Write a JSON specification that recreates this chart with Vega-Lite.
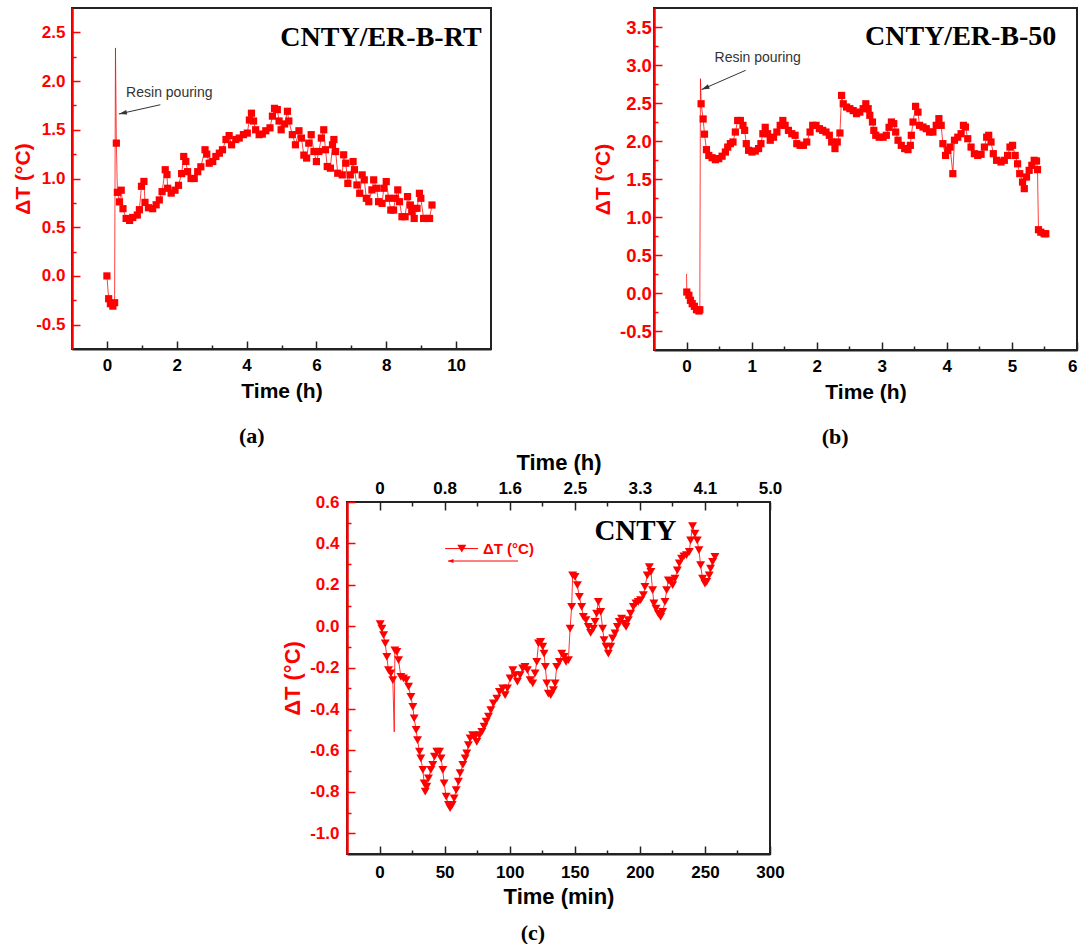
{
  "$schema": "https://vega.github.io/schema/vega-lite/v6.json",
  "padding": {"left": 11, "top": 7, "right": 0, "bottom": 0},
  "background": "white",
  "datasets": {
    "a": [
      {"t":0,"dT":0.0},{"t":0.05,"dT":-0.234},{"t":0.1,"dT":-0.285},{"t":0.17,"dT":-0.31},{"t":0.22,"dT":-0.275},
      {"t":0.245,"dT":2.34,"spike":true},{"t":0.27,"dT":1.363},{"t":0.3,"dT":0.858},{"t":0.36,"dT":0.76},{"t":0.41,"dT":0.88},
      {"t":0.46,"dT":0.69},{"t":0.55,"dT":0.59},{"t":0.65,"dT":0.57},{"t":0.74,"dT":0.6},{"t":0.87,"dT":0.625},
      {"t":0.93,"dT":0.68},{"t":0.99,"dT":0.92},{"t":1.06,"dT":0.97},{"t":1.09,"dT":0.755},{"t":1.19,"dT":0.7},
      {"t":1.31,"dT":0.69},{"t":1.41,"dT":0.73},{"t":1.5,"dT":0.78},{"t":1.58,"dT":0.865},{"t":1.67,"dT":1.09},
      {"t":1.72,"dT":1.04},{"t":1.74,"dT":0.9},{"t":1.84,"dT":0.85},{"t":1.95,"dT":0.88},{"t":2.05,"dT":0.93},
      {"t":2.14,"dT":1.05},{"t":2.2,"dT":1.226},{"t":2.26,"dT":1.175},{"t":2.31,"dT":1.07},{"t":2.41,"dT":1.0},
      {"t":2.5,"dT":1.0},{"t":2.6,"dT":1.07},{"t":2.69,"dT":1.12},{"t":2.81,"dT":1.295},{"t":2.86,"dT":1.25},
      {"t":2.93,"dT":1.157},{"t":3.03,"dT":1.174},{"t":3.12,"dT":1.226},{"t":3.22,"dT":1.26},{"t":3.31,"dT":1.295},
      {"t":3.41,"dT":1.4},{"t":3.5,"dT":1.44},{"t":3.57,"dT":1.346},{"t":3.69,"dT":1.4},{"t":3.79,"dT":1.415},
      {"t":3.91,"dT":1.45},{"t":4.02,"dT":1.466},{"t":4.08,"dT":1.6},{"t":4.14,"dT":1.67},{"t":4.2,"dT":1.59},
      {"t":4.26,"dT":1.5},{"t":4.36,"dT":1.45},{"t":4.45,"dT":1.456},{"t":4.55,"dT":1.49},{"t":4.67,"dT":1.52},
      {"t":4.74,"dT":1.64},{"t":4.8,"dT":1.72},{"t":4.88,"dT":1.707},{"t":4.93,"dT":1.59},{"t":4.99,"dT":1.5},
      {"t":5.09,"dT":1.56},{"t":5.17,"dT":1.69},{"t":5.21,"dT":1.59},{"t":5.31,"dT":1.45},{"t":5.4,"dT":1.346},
      {"t":5.5,"dT":1.49},{"t":5.57,"dT":1.415},{"t":5.64,"dT":1.24},{"t":5.72,"dT":1.21},{"t":5.78,"dT":1.363},
      {"t":5.85,"dT":1.45},{"t":5.93,"dT":1.277},{"t":6.0,"dT":1.174},{"t":6.07,"dT":1.277},{"t":6.14,"dT":1.415},
      {"t":6.21,"dT":1.5},{"t":6.26,"dT":1.295},{"t":6.31,"dT":1.123},{"t":6.4,"dT":1.106},{"t":6.46,"dT":1.346},
      {"t":6.5,"dT":1.4},{"t":6.55,"dT":1.277},{"t":6.61,"dT":1.054},{"t":6.74,"dT":1.037},{"t":6.78,"dT":1.243},
      {"t":6.84,"dT":1.157},{"t":6.9,"dT":0.95},{"t":6.97,"dT":1.037},{"t":7.05,"dT":1.174},{"t":7.09,"dT":1.09},
      {"t":7.16,"dT":0.934},{"t":7.24,"dT":0.848},{"t":7.31,"dT":1.037},{"t":7.37,"dT":0.986},{"t":7.43,"dT":0.797},
      {"t":7.5,"dT":0.762},{"t":7.59,"dT":0.883},{"t":7.64,"dT":0.986},{"t":7.72,"dT":0.9},{"t":7.78,"dT":0.762},
      {"t":7.88,"dT":0.745},{"t":7.93,"dT":0.9},{"t":8.0,"dT":0.968},{"t":8.07,"dT":0.797},{"t":8.13,"dT":0.676},
      {"t":8.21,"dT":0.676},{"t":8.26,"dT":0.797},{"t":8.33,"dT":0.883},{"t":8.38,"dT":0.762},{"t":8.45,"dT":0.608},
      {"t":8.54,"dT":0.608},{"t":8.61,"dT":0.814},{"t":8.69,"dT":0.728},{"t":8.73,"dT":0.66},{"t":8.8,"dT":0.59},
      {"t":8.88,"dT":0.694},{"t":8.95,"dT":0.848},{"t":8.99,"dT":0.797},{"t":9.07,"dT":0.59},{"t":9.16,"dT":0.59},
      {"t":9.24,"dT":0.59},{"t":9.31,"dT":0.728}
    ],
    "b": [
      {"t":0,"dT":0.25,"spike":true},{"t":0.004,"dT":0.013},{"t":0.036,"dT":-0.03},{"t":0.06,"dT":-0.096},{"t":0.087,"dT":-0.14},
      {"t":0.12,"dT":-0.175},{"t":0.153,"dT":-0.22},{"t":0.19,"dT":-0.237},{"t":0.204,"dT":-0.22},{"t":0.214,"dT":2.82,"spike":true},
      {"t":0.224,"dT":2.49},{"t":0.255,"dT":2.29},{"t":0.276,"dT":2.09},{"t":0.306,"dT":1.886},{"t":0.342,"dT":1.81},
      {"t":0.393,"dT":1.78},{"t":0.444,"dT":1.754},{"t":0.495,"dT":1.768},{"t":0.546,"dT":1.8},{"t":0.597,"dT":1.855},
      {"t":0.633,"dT":1.92},{"t":0.673,"dT":1.965},{"t":0.714,"dT":1.987},{"t":0.75,"dT":2.118},{"t":0.786,"dT":2.27},
      {"t":0.827,"dT":2.27},{"t":0.867,"dT":2.206},{"t":0.893,"dT":2.14},{"t":0.918,"dT":1.965},{"t":0.954,"dT":1.877},
      {"t":1.005,"dT":1.855},{"t":1.056,"dT":1.868},{"t":1.107,"dT":1.9},{"t":1.143,"dT":1.965},{"t":1.173,"dT":2.096},
      {"t":1.209,"dT":2.18},{"t":1.245,"dT":2.096},{"t":1.286,"dT":2.01},{"t":1.337,"dT":2.05},{"t":1.388,"dT":2.118},
      {"t":1.439,"dT":2.206},{"t":1.48,"dT":2.27},{"t":1.515,"dT":2.206},{"t":1.566,"dT":2.14},{"t":1.617,"dT":2.096},
      {"t":1.668,"dT":2.075},{"t":1.694,"dT":1.965},{"t":1.745,"dT":1.943},{"t":1.796,"dT":1.943},{"t":1.847,"dT":1.987},
      {"t":1.898,"dT":2.118},{"t":1.939,"dT":2.206},{"t":1.99,"dT":2.206},{"t":2.041,"dT":2.162},{"t":2.092,"dT":2.14},
      {"t":2.143,"dT":2.118},{"t":2.194,"dT":2.075},{"t":2.23,"dT":1.987},{"t":2.281,"dT":1.9},{"t":2.316,"dT":1.987},
      {"t":2.357,"dT":2.105},{"t":2.383,"dT":2.6},{"t":2.408,"dT":2.49},{"t":2.459,"dT":2.447},{"t":2.51,"dT":2.425},
      {"t":2.561,"dT":2.4},{"t":2.612,"dT":2.36},{"t":2.663,"dT":2.38},{"t":2.714,"dT":2.425},{"t":2.755,"dT":2.49},
      {"t":2.791,"dT":2.425},{"t":2.816,"dT":2.338},{"t":2.857,"dT":2.25},{"t":2.878,"dT":2.14},{"t":2.908,"dT":2.075},
      {"t":2.959,"dT":2.05},{"t":3.02,"dT":2.05},{"t":3.07,"dT":2.075},{"t":3.112,"dT":2.18},{"t":3.148,"dT":2.25},
      {"t":3.184,"dT":2.228},{"t":3.214,"dT":2.118},{"t":3.25,"dT":2.01},{"t":3.3,"dT":1.943},{"t":3.352,"dT":1.9},
      {"t":3.403,"dT":1.886},{"t":3.439,"dT":1.943},{"t":3.454,"dT":2.075},{"t":3.48,"dT":2.25},{"t":3.52,"dT":2.456},
      {"t":3.556,"dT":2.38},{"t":3.58,"dT":2.206},{"t":3.633,"dT":2.184},{"t":3.684,"dT":2.162},{"t":3.735,"dT":2.118},
      {"t":3.786,"dT":2.118},{"t":3.837,"dT":2.206},{"t":3.878,"dT":2.294},{"t":3.913,"dT":2.206},{"t":3.939,"dT":1.965},
      {"t":3.98,"dT":1.81},{"t":4.015,"dT":1.877},{"t":4.05,"dT":1.92},{"t":4.092,"dT":1.57},{"t":4.117,"dT":2.01},
      {"t":4.168,"dT":2.05},{"t":4.219,"dT":2.096},{"t":4.255,"dT":2.206},{"t":4.286,"dT":2.184},{"t":4.321,"dT":2.03},
      {"t":4.372,"dT":1.92},{"t":4.423,"dT":1.833},{"t":4.474,"dT":1.81},{"t":4.526,"dT":1.825},{"t":4.577,"dT":1.92},
      {"t":4.612,"dT":2.05},{"t":4.643,"dT":2.075},{"t":4.679,"dT":1.987},{"t":4.714,"dT":1.833},{"t":4.765,"dT":1.746},
      {"t":4.832,"dT":1.724},{"t":4.883,"dT":1.746},{"t":4.934,"dT":1.81},{"t":4.97,"dT":1.92},{"t":5.01,"dT":1.943},
      {"t":5.05,"dT":1.81},{"t":5.087,"dT":1.7},{"t":5.12,"dT":1.57},{"t":5.163,"dT":1.46},{"t":5.19,"dT":1.373},
      {"t":5.224,"dT":1.526},{"t":5.265,"dT":1.614},{"t":5.306,"dT":1.68},{"t":5.342,"dT":1.746},{"t":5.378,"dT":1.737},
      {"t":5.393,"dT":1.623},{"t":5.408,"dT":0.833},{"t":5.444,"dT":0.8},{"t":5.495,"dT":0.78},{"t":5.52,"dT":0.78}
    ],
    "c": [
      {"t":0.5,"dT":0.01},{"t":1.8,"dT":-0.011},{"t":3.1,"dT":-0.043},{"t":4.4,"dT":-0.083},{"t":5.6,"dT":-0.148},
      {"t":6.9,"dT":-0.212},{"t":8.7,"dT":-0.228},{"t":10.2,"dT":-0.26},{"t":11.3,"dT":-0.51,"spike":true},{"t":11.8,"dT":-0.116},
      {"t":13.3,"dT":-0.124},{"t":14.6,"dT":-0.164},{"t":16.4,"dT":-0.244},{"t":18.4,"dT":-0.252},{"t":20.5,"dT":-0.26},
      {"t":22.3,"dT":-0.292},{"t":24.1,"dT":-0.341},{"t":25.6,"dT":-0.389},{"t":26.6,"dT":-0.445},{"t":28.1,"dT":-0.501},
      {"t":29.2,"dT":-0.55},{"t":30.7,"dT":-0.606},{"t":31.7,"dT":-0.638},{"t":33.3,"dT":-0.694},{"t":34.3,"dT":-0.759},
      {"t":35.1,"dT":-0.799},{"t":36.3,"dT":-0.775},{"t":37.6,"dT":-0.735},{"t":39.4,"dT":-0.694},{"t":40.9,"dT":-0.67},
      {"t":42.2,"dT":-0.63},{"t":44.0,"dT":-0.606},{"t":46.1,"dT":-0.606},{"t":47.3,"dT":-0.638},{"t":48.6,"dT":-0.694},
      {"t":49.6,"dT":-0.759},{"t":51.2,"dT":-0.823},{"t":53.0,"dT":-0.863},{"t":54.2,"dT":-0.879},{"t":55.8,"dT":-0.863},
      {"t":57.3,"dT":-0.831},{"t":58.9,"dT":-0.791},{"t":60.6,"dT":-0.751},{"t":61.9,"dT":-0.71},{"t":64.0,"dT":-0.67},
      {"t":65.8,"dT":-0.638},{"t":67.0,"dT":-0.614},{"t":68.3,"dT":-0.574},{"t":69.6,"dT":-0.542},{"t":71.6,"dT":-0.526},
      {"t":73.4,"dT":-0.534},{"t":74.7,"dT":-0.558},{"t":76.8,"dT":-0.526},{"t":78.6,"dT":-0.51},{"t":80.3,"dT":-0.485},
      {"t":81.9,"dT":-0.461},{"t":83.7,"dT":-0.437},{"t":85.5,"dT":-0.405},{"t":87.5,"dT":-0.373},{"t":90.1,"dT":-0.349},
      {"t":92.1,"dT":-0.317},{"t":94.7,"dT":-0.3},{"t":96.5,"dT":-0.333},{"t":98.3,"dT":-0.3},{"t":100.3,"dT":-0.252},
      {"t":102.4,"dT":-0.212},{"t":104.1,"dT":-0.236},{"t":105.9,"dT":-0.268},{"t":108.0,"dT":-0.236},{"t":110.0,"dT":-0.204},
      {"t":111.8,"dT":-0.196},{"t":113.6,"dT":-0.212},{"t":115.7,"dT":-0.26},{"t":117.7,"dT":-0.276},{"t":119.5,"dT":-0.228},
      {"t":120.8,"dT":-0.172},{"t":122.1,"dT":-0.083},{"t":123.8,"dT":-0.075},{"t":125.4,"dT":-0.099},{"t":126.4,"dT":-0.132},
      {"t":127.4,"dT":-0.196},{"t":128.5,"dT":-0.276},{"t":129.7,"dT":-0.325},{"t":131.5,"dT":-0.333},{"t":133.6,"dT":-0.308},
      {"t":134.9,"dT":-0.276},{"t":136.1,"dT":-0.196},{"t":138.2,"dT":-0.172},{"t":140.0,"dT":-0.132},{"t":141.8,"dT":-0.148},
      {"t":143.3,"dT":-0.172},{"t":145.1,"dT":-0.164},{"t":146.4,"dT":-0.011},{"t":147.6,"dT":0.093},{"t":148.4,"dT":0.246},
      {"t":150.2,"dT":0.238},{"t":152.0,"dT":0.198},{"t":153.5,"dT":0.142},{"t":155.3,"dT":0.093},{"t":156.6,"dT":0.045},
      {"t":158.6,"dT":0.029},{"t":160.4,"dT":-0.003},{"t":162.2,"dT":-0.032},{"t":164.3,"dT":-0.011},{"t":165.6,"dT":0.021},
      {"t":166.8,"dT":0.061},{"t":168.1,"dT":0.118},{"t":169.9,"dT":0.069},{"t":171.4,"dT":-0.011},{"t":172.5,"dT":-0.067},
      {"t":174.0,"dT":-0.099},{"t":175.8,"dT":-0.132},{"t":177.6,"dT":-0.099},{"t":179.1,"dT":-0.059},{"t":180.9,"dT":-0.035},
      {"t":182.7,"dT":-0.003},{"t":184.2,"dT":0.021},{"t":186.0,"dT":0.037},{"t":187.8,"dT":0.013},{"t":189.4,"dT":-0.003},
      {"t":191.1,"dT":0.029},{"t":192.9,"dT":0.061},{"t":195.0,"dT":0.093},{"t":197.0,"dT":0.11},{"t":198.8,"dT":0.118},
      {"t":200.6,"dT":0.126},{"t":202.7,"dT":0.15},{"t":203.9,"dT":0.19},{"t":205.7,"dT":0.246},{"t":207.3,"dT":0.286},
      {"t":208.5,"dT":0.262},{"t":209.8,"dT":0.174},{"t":210.8,"dT":0.11},{"t":212.4,"dT":0.085},{"t":214.2,"dT":0.061},
      {"t":216.0,"dT":0.045},{"t":217.5,"dT":0.069},{"t":219.3,"dT":0.118},{"t":220.6,"dT":0.174},{"t":221.9,"dT":0.222},
      {"t":223.6,"dT":0.214},{"t":225.2,"dT":0.198},{"t":227.0,"dT":0.23},{"t":228.8,"dT":0.27},{"t":230.3,"dT":0.303},
      {"t":232.1,"dT":0.327},{"t":233.9,"dT":0.338},{"t":235.9,"dT":0.343},{"t":238.0,"dT":0.359},{"t":239.0,"dT":0.415},
      {"t":240.5,"dT":0.483},{"t":242.3,"dT":0.447},{"t":244.1,"dT":0.415},{"t":245.4,"dT":0.367},{"t":246.7,"dT":0.295},
      {"t":248.2,"dT":0.23},{"t":250.0,"dT":0.206},{"t":251.3,"dT":0.214},{"t":253.3,"dT":0.246},{"t":254.3,"dT":0.278},
      {"t":255.9,"dT":0.311},{"t":257.7,"dT":0.335}
    ]
  },
  "vconcat": [
    {
      "bounds": "flush",
      "spacing": 163,
      "hconcat": [
        {
          "width": 419, "height": 341,
          "title": {"text": "(a)", "orient": "bottom", "anchor": "middle", "frame": "bounds", "offset": 25},
          "resolve": {"axis": {"x": "independent", "y": "independent"}},
          "layer": [
            {
              "data": {"name": "a"},
              "mark": {"type": "line", "color": "#ff0000", "strokeWidth": 1, "opacity": 0.75},
              "encoding": {
                "x": {"field": "t", "type": "quantitative", "scale": {"domain": [-1, 11], "nice": false, "zero": false},
                      "axis": {"orient": "bottom", "values": [0, 2, 4, 6, 8, 10], "format": "d", "labelPadding": 16, "labelFlush": false, "title": "Time (h)", "titlePadding": 7}},
                "y": {"field": "dT", "type": "quantitative", "scale": {"domain": [-0.75, 2.75], "nice": false, "zero": false},
                      "axis": {"orient": "left", "values": [-0.5, 0, 0.5, 1, 1.5, 2, 2.5], "labelExpr": "(datum.value < 0 ? '-' : '') + format(abs(datum.value), '.1f')", "labelPadding": 15, "title": "ΔT (°C)", "titlePadding": 2}}
              }
            },
            {
              "data": {"name": "a"},
              "mark": {"type": "point", "opacity": 0},
              "encoding": {
                "x": {"field": "t", "type": "quantitative", "axis": {"orient": "bottom", "values": [1, 3, 5, 7, 9], "labels": false, "domain": false, "title": null, "tickSize": -4}},
                "y": {"field": "dT", "type": "quantitative", "axis": {"orient": "left", "values": [-0.25, 0.25, 0.75, 1.25, 1.75, 2.25], "labels": false, "domain": false, "title": null, "tickSize": -4}}
              }
            },
            {
              "data": {"name": "a"},
              "transform": [{"filter": "!datum.spike"}],
              "mark": {"type": "point", "shape": "square", "filled": true, "size": 52, "color": "#ff0000", "opacity": 1},
              "encoding": {"x": {"field": "t", "type": "quantitative", "axis": null}, "y": {"field": "dT", "type": "quantitative", "axis": null}}
            },
            {
              "data": {"values": [{"t": 10.73, "dT": 2.36, "label": "CNTY/ER-B-RT"}]},
              "mark": {"type": "text", "align": "right", "baseline": "alphabetic", "font": "Liberation Serif", "fontSize": 28, "fontWeight": "bold", "color": "#000"},
              "encoding": {"x": {"field": "t", "type": "quantitative", "axis": null}, "y": {"field": "dT", "type": "quantitative", "axis": null}, "text": {"field": "label"}}
            },
            {
              "data": {"values": [{"t": 0.55, "dT": 1.878, "label": "Resin pouring"}]},
              "mark": {"type": "text", "align": "left", "baseline": "middle", "font": "Liberation Sans", "fontSize": 14, "color": "#333"},
              "encoding": {"x": {"field": "t", "type": "quantitative", "axis": null}, "y": {"field": "dT", "type": "quantitative", "axis": null}, "text": {"field": "label"}}
            },
            {
              "data": {"values": [{"t": 1.53, "dT": 1.757, "t2": 0.343, "dT2": 1.662}]},
              "mark": {"type": "rule", "color": "#333", "strokeWidth": 1},
              "encoding": {"x": {"field": "t", "type": "quantitative", "axis": null}, "y": {"field": "dT", "type": "quantitative", "axis": null}, "x2": {"field": "t2"}, "y2": {"field": "dT2"}}
            },
            {
              "data": {"values": [{"t": 0.343, "dT": 1.662}]},
              "mark": {"type": "point", "shape": "M0,0L1,-0.3L1,0.3Z", "filled": true, "size": 256, "angle": 347.4, "color": "#333", "opacity": 1},
              "encoding": {"x": {"field": "t", "type": "quantitative", "axis": null}, "y": {"field": "dT", "type": "quantitative", "axis": null}}
            }
          ]
        },
        {
          "width": 423, "height": 342,
          "title": {"text": "(b)", "orient": "bottom", "anchor": "middle", "frame": "bounds", "offset": 25},
          "resolve": {"axis": {"x": "independent", "y": "independent"}},
          "layer": [
            {
              "data": {"name": "b"},
              "mark": {"type": "line", "color": "#ff0000", "strokeWidth": 1, "opacity": 0.75},
              "encoding": {
                "x": {"field": "t", "type": "quantitative", "scale": {"domain": [-0.5, 6], "nice": false, "zero": false},
                      "axis": {"orient": "bottom", "values": [0, 1, 2, 3, 4, 5, 6], "format": "d", "labelPadding": 16, "labelFlush": true, "title": "Time (h)", "titlePadding": 7}},
                "y": {"field": "dT", "type": "quantitative", "scale": {"domain": [-0.75, 3.75], "nice": false, "zero": false},
                      "axis": {"orient": "left", "values": [-0.5, 0, 0.5, 1, 1.5, 2, 2.5, 3, 3.5], "labelExpr": "(datum.value < 0 ? '-' : '') + format(abs(datum.value), '.1f')", "labelPadding": 10.6, "labelFontSize": 18.5, "title": "ΔT (°C)", "titlePadding": 6}}
              }
            },
            {
              "data": {"name": "b"},
              "mark": {"type": "point", "opacity": 0},
              "encoding": {
                "x": {"field": "t", "type": "quantitative", "axis": {"orient": "bottom", "values": [0.5, 1.5, 2.5, 3.5, 4.5, 5.5], "labels": false, "domain": false, "title": null, "tickSize": -4}},
                "y": {"field": "dT", "type": "quantitative", "axis": {"orient": "left", "values": [-0.25, 0.25, 0.75, 1.25, 1.75, 2.25, 2.75, 3.25], "labels": false, "domain": false, "title": null, "tickSize": -4}}
              }
            },
            {
              "data": {"name": "b"},
              "transform": [{"filter": "!datum.spike"}],
              "mark": {"type": "point", "shape": "square", "filled": true, "size": 52, "color": "#ff0000", "opacity": 1},
              "encoding": {"x": {"field": "t", "type": "quantitative", "axis": null}, "y": {"field": "dT", "type": "quantitative", "axis": null}}
            },
            {
              "data": {"values": [{"t": 5.683, "dT": 3.259, "label": "CNTY/ER-B-50"}]},
              "mark": {"type": "text", "align": "right", "baseline": "alphabetic", "font": "Liberation Serif", "fontSize": 28, "fontWeight": "bold", "color": "#000"},
              "encoding": {"x": {"field": "t", "type": "quantitative", "axis": null}, "y": {"field": "dT", "type": "quantitative", "axis": null}, "text": {"field": "label"}}
            },
            {
              "data": {"values": [{"t": 0.43, "dT": 3.097, "label": "Resin pouring"}]},
              "mark": {"type": "text", "align": "left", "baseline": "middle", "font": "Liberation Sans", "fontSize": 14, "color": "#333"},
              "encoding": {"x": {"field": "t", "type": "quantitative", "axis": null}, "y": {"field": "dT", "type": "quantitative", "axis": null}, "text": {"field": "label"}}
            },
            {
              "data": {"values": [{"t": 0.908, "dT": 2.93, "t2": 0.23, "dT2": 2.676}]},
              "mark": {"type": "rule", "color": "#333", "strokeWidth": 1},
              "encoding": {"x": {"field": "t", "type": "quantitative", "axis": null}, "y": {"field": "dT", "type": "quantitative", "axis": null}, "x2": {"field": "t2"}, "y2": {"field": "dT2"}}
            },
            {
              "data": {"values": [{"t": 0.23, "dT": 2.676}]},
              "mark": {"type": "point", "shape": "M0,0L1,-0.3L1,0.3Z", "filled": true, "size": 256, "angle": 336.5, "color": "#333", "opacity": 1},
              "encoding": {"x": {"field": "t", "type": "quantitative", "axis": null}, "y": {"field": "dT", "type": "quantitative", "axis": null}}
            }
          ]
        }
      ]
    },
    {
      "bounds": "flush",
      "spacing": 0,
      "hconcat": [
        {
          "width": 275, "height": 10,
          "view": {"stroke": null},
          "data": {"values": [{"t": 0, "dT": 0}]},
          "mark": {"type": "point", "opacity": 0},
          "encoding": {"x": {"field": "t", "type": "quantitative", "axis": null}, "y": {"field": "dT", "type": "quantitative", "axis": null}}
        },
        {
          "width": 423, "height": 352,
          "title": {"text": "(c)", "orient": "bottom", "anchor": "middle", "frame": "bounds", "offset": 16},
          "resolve": {"axis": {"x": "independent", "y": "independent"}},
          "layer": [
            {
              "data": {"name": "c"},
              "mark": {"type": "line", "color": "#ff0000", "strokeWidth": 1, "opacity": 0.8},
              "encoding": {
                "x": {"field": "t", "type": "quantitative", "scale": {"domain": [-25, 300], "nice": false, "zero": false},
                      "axis": {"orient": "bottom", "values": [0, 50, 100, 150, 200, 250, 300], "format": "d", "labelPadding": 18, "labelFlush": false, "title": "Time (min)", "titlePadding": 6, "titleFontSize": 22}},
                "y": {"field": "dT", "type": "quantitative", "scale": {"domain": [-1.1, 0.6], "nice": false, "zero": false},
                      "axis": {"orient": "left", "values": [-1.0, -0.8, -0.6, -0.4, -0.2, 0, 0.2, 0.4, 0.6], "labelExpr": "(datum.value < 0 ? '-' : '') + format(abs(datum.value), '.1f')", "labelPadding": 16, "title": "ΔT (°C)", "titlePadding": 5, "titleFontSize": 22}}
              }
            },
            {
              "data": {"name": "c"},
              "mark": {"type": "point", "opacity": 0},
              "encoding": {
                "x": {"field": "t", "type": "quantitative", "axis": {"orient": "bottom", "values": [25, 75, 125, 175, 225, 275], "labels": false, "domain": false, "title": null, "tickSize": -4}},
                "y": {"field": "dT", "type": "quantitative", "axis": {"orient": "left", "values": [-0.9, -0.7, -0.5, -0.3, -0.1, 0.1, 0.3, 0.5], "labels": false, "domain": false, "title": null, "tickSize": -4}}
              }
            },
            {
              "data": {"name": "c"},
              "mark": {"type": "point", "opacity": 0},
              "encoding": {
                "x": {"field": "t", "type": "quantitative", "axis": {"orient": "top", "values": [0, 50, 100, 150, 200, 250, 300], "labelExpr": "datum.value == 0 ? '0' : format(floor(datum.value / 6) / 10, '.1f')", "labelPadding": 13, "labelFlush": false, "domain": false, "title": "Time (h)", "titlePadding": 5, "titleFontSize": 22}},
                "y": {"field": "dT", "type": "quantitative", "axis": null}
              }
            },
            {
              "data": {"name": "c"},
              "mark": {"type": "point", "opacity": 0},
              "encoding": {
                "x": {"field": "t", "type": "quantitative", "axis": {"orient": "top", "values": [25, 75, 125, 175, 225, 275], "labels": false, "domain": false, "title": null, "tickSize": -4}},
                "y": {"field": "dT", "type": "quantitative", "axis": null}
              }
            },
            {
              "data": {"name": "c"},
              "transform": [{"filter": "!datum.spike"}],
              "mark": {"type": "point", "shape": "triangle-down", "filled": true, "size": 80, "color": "#ff0000", "opacity": 1},
              "encoding": {"x": {"field": "t", "type": "quantitative", "axis": null}, "y": {"field": "dT", "type": "quantitative", "axis": null}}
            },
            {
              "data": {"values": [{"t": 228.2, "dT": 0.415, "label": "CNTY"}]},
              "mark": {"type": "text", "align": "right", "baseline": "alphabetic", "font": "Liberation Serif", "fontSize": 29, "fontWeight": "bold", "color": "#000"},
              "encoding": {"x": {"field": "t", "type": "quantitative", "axis": null}, "y": {"field": "dT", "type": "quantitative", "axis": null}, "text": {"field": "label"}}
            },
            {
              "data": {"values": [{"t": 50.4, "t2": 75.7, "dT": 0.375}]},
              "mark": {"type": "rule", "color": "#ff0000", "strokeWidth": 1},
              "encoding": {"x": {"field": "t", "type": "quantitative", "axis": null}, "x2": {"field": "t2"}, "y": {"field": "dT", "type": "quantitative", "axis": null}}
            },
            {
              "data": {"values": [{"t": 63.2, "dT": 0.375}]},
              "mark": {"type": "point", "shape": "triangle-down", "filled": true, "size": 80, "color": "#ff0000", "opacity": 1},
              "encoding": {"x": {"field": "t", "type": "quantitative", "axis": null}, "y": {"field": "dT", "type": "quantitative", "axis": null}}
            },
            {
              "data": {"values": [{"t": 79.5, "dT": 0.375, "label": "ΔT (°C)"}]},
              "mark": {"type": "text", "align": "left", "baseline": "middle", "font": "Liberation Sans", "fontSize": 15, "fontWeight": "bold", "color": "#ff0000"},
              "encoding": {"x": {"field": "t", "type": "quantitative", "axis": null}, "y": {"field": "dT", "type": "quantitative", "axis": null}, "text": {"field": "label"}}
            },
            {
              "data": {"values": [{"t": 106.4, "t2": 52.6, "dT": 0.315}]},
              "mark": {"type": "rule", "color": "#ff0000", "strokeWidth": 1},
              "encoding": {"x": {"field": "t", "type": "quantitative", "axis": null}, "x2": {"field": "t2"}, "y": {"field": "dT", "type": "quantitative", "axis": null}}
            },
            {
              "data": {"values": [{"t": 52.6, "dT": 0.315}]},
              "mark": {"type": "point", "shape": "M0,0L1,-0.35L1,0.35Z", "filled": true, "size": 120, "angle": 0, "color": "#ff0000", "opacity": 1},
              "encoding": {"x": {"field": "t", "type": "quantitative", "axis": null}, "y": {"field": "dT", "type": "quantitative", "axis": null}}
            }
          ]
        }
      ]
    }
  ],
  "spacing": 1,
  "config": {
    "view": {"stroke": "#222", "strokeWidth": 2},
    "axis": {"grid": false, "labelFont": "Liberation Sans", "labelFontWeight": "bold", "labelFontSize": 17, "titleFont": "Liberation Sans", "titleFontWeight": "bold", "titleFontSize": 21, "tickWidth": 1.5, "tickSize": -8, "domainWidth": 2, "domainColor": "#222", "tickColor": "#222", "labelColor": "#000", "titleColor": "#000"},
    "axisY": {"domainColor": "#ff0000", "tickColor": "#ff0000", "labelColor": "#ff0000", "titleColor": "#ff0000", "domainWidth": 2.5},
    "title": {"font": "Liberation Serif", "fontSize": 22, "fontWeight": "bold", "color": "#000"}
  }
}
